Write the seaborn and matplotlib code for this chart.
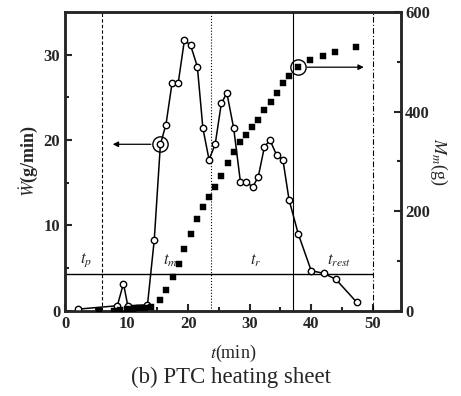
import numpy as np
import pandas as pd
import matplotlib
matplotlib.use('Agg')
import matplotlib.pyplot as plt
import seaborn as sns

# W (g/min) - open circles
w_time = [2.1, 8.5, 9.5, 10.2, 13.4, 14.5, 15.5, 16.4, 17.4, 18.4, 19.4, 20.4, 21.5, 22.4,
          23.4, 24.4, 25.4, 26.3, 27.4, 28.5, 29.4, 30.5, 31.4, 32.4, 33.3, 34.4, 35.4,
          36.4, 37.9, 40.0, 42.0, 44.0, 47.4]
w_rate = [0.2, 0.6, 3.2, 0.6, 0.7, 8.3, 19.5, 21.8, 26.7, 26.7, 31.7, 31.1, 28.6, 21.4,
          17.7, 19.5, 24.3, 25.5, 21.4, 15.1, 15.1, 14.5, 15.7, 19.2, 20.0, 18.2, 17.7,
          13.0, 9.0, 4.7, 4.4, 3.7, 1.0]

# Mm (g) - filled squares, right axis
m_time = [5.5, 8.0, 9.0, 10.0, 11.0, 12.0, 13.0, 14.0, 15.4, 16.4, 17.5, 18.5, 19.4, 20.4,
          21.4, 22.4, 23.4, 24.4, 25.4, 26.5, 27.4, 28.4, 29.4, 30.4, 31.4, 32.4, 33.4,
          34.4, 35.4, 36.4, 37.8, 39.8, 41.9, 43.9, 47.3]
m_mass = [0, 0, 2, 3, 3, 5, 6, 8, 22, 42, 67, 94, 124, 154, 184, 209, 229, 248, 271, 296,
          319, 338, 353, 368, 384, 403, 420, 438, 457, 472, 489, 504, 512, 520, 529]

# phase boundaries and labels
phase_bounds = [6.0, 23.7, 37.0, 50.0]
phase_level = 4.3
phase_names = ['$t_p$', '$t_m$', '$t_r$', '$t_{rest}$']
phase_label_x = [2.5, 16.0, 30.0, 42.5]

# highlighted points (W at 15.5, Mm at 37.8) and arrow ends
w_mark = (15.5, 19.5)
m_mark = (37.8, 489)

sns.set_style('ticks')
plt.rcParams['font.family'] = ['Liberation Serif', 'DejaVu Serif']
plt.rcParams['mathtext.fontset'] = 'stix'

fig = plt.figure(figsize=(4.61, 3.96), dpi=100)
ax = fig.add_axes([0.141, 0.215, 0.729, 0.755])
ax2 = ax.twinx()

df_w = pd.DataFrame({'t': w_time, 'W': w_rate})
df_m = pd.DataFrame({'t': m_time, 'M': m_mass})

sns.lineplot(data=df_w, x='t', y='W', ax=ax, color='black', lw=1.1, marker='o',
             markersize=4.6, markerfacecolor='white', markeredgecolor='black',
             markeredgewidth=1.0, zorder=4)
sns.scatterplot(data=df_m, x='t', y='M', ax=ax2, color='black', marker='s', s=15,
                edgecolor='black', zorder=4)

ax.set_xlim(0, 54.6)
ax.set_ylim(0, 35)
ax2.set_ylim(0, 600)

# phase lines
styles = [(0, (3, 2)), ':', '-', (0, (5, 2, 1, 2))]
for xb, ls in zip(phase_bounds, styles):
    ax.axvline(xb, color='black', lw=0.8, ls=ls, zorder=1)
ax.hlines(phase_level, 0, phase_bounds[-1], color='black', lw=1.0, zorder=1)
for name, xl in zip(phase_names, phase_label_x):
    ax.text(xl, phase_level + 0.6, name, fontsize=12, ha='left', va='bottom')

# highlighted points with arrows
ax.plot(*w_mark, 'o', ms=11, mfc='none', mec='black', mew=1.0, zorder=5)
ax.annotate('', xy=(7.3, w_mark[1]), xytext=(w_mark[0] - 1.1, w_mark[1]),
            arrowprops=dict(arrowstyle='-|>', color='black', lw=0.9, mutation_scale=8))
ax2.plot(*m_mark, 'o', ms=11, mfc='none', mec='black', mew=1.0, zorder=5)
ax2.annotate('', xy=(49.0, m_mark[1]), xytext=(m_mark[0] + 1.1, m_mark[1]),
             arrowprops=dict(arrowstyle='-|>', color='black', lw=0.9, mutation_scale=8))

ax.set_xticks([0, 10, 20, 30, 40, 50])
ax.set_xticks([5, 15, 25, 35, 45], minor=True)
ax.set_yticks([0, 10, 20, 30])
ax.set_yticks([5, 15, 25], minor=True)
ax2.set_yticks([0, 200, 400, 600])
ax2.set_yticks([100, 300, 500], minor=True)

for a in (ax, ax2):
    a.tick_params(which='both', direction='in', width=1.5, labelsize=12)
    a.tick_params(which='major', length=5)
    a.tick_params(which='minor', length=3)
    for lab in a.get_xticklabels() + a.get_yticklabels():
        lab.set_fontweight('bold')
    for s in a.spines.values():
        s.set_linewidth(1.8)
        s.set_visible(True)
ax2.tick_params(axis='y', pad=3)
for lab in ax2.get_yticklabels():
    lab.set_fontweight('bold')

ax.set_xlabel('$t$(min)', fontsize=13, labelpad=8)
ax.set_ylabel(r'$\dot{W}$(g/min)', fontsize=13, fontweight='bold', labelpad=2)
ax2.set_ylabel('$M_m$(g)', fontsize=13, rotation=270, labelpad=14)

fig.text(0.50, 0.02, '(b) PTC heating sheet', ha='center', va='bottom', fontsize=16.5)

fig.savefig('out.png', dpi=100)
